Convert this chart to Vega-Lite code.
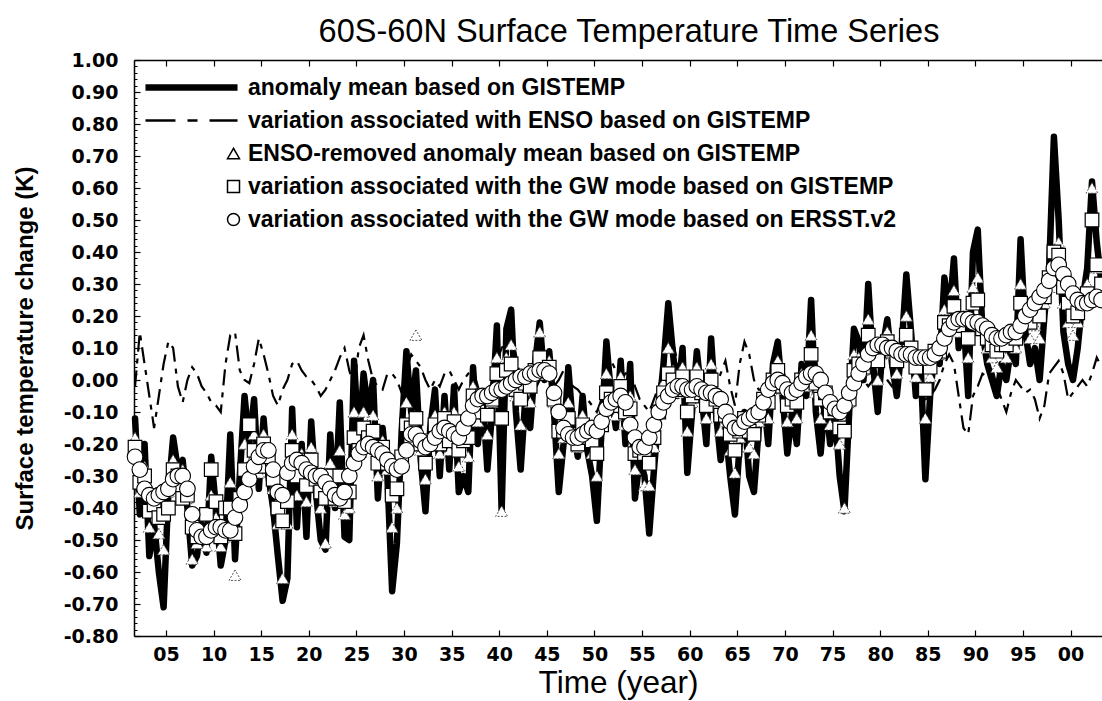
{
  "$schema": "https://vega.github.io/schema/vega-lite/v6.json",
  "width": 968,
  "height": 576,
  "autosize": {"type": "none"},
  "padding": {"left": 134, "top": 60, "right": 0, "bottom": 65},
  "background": "white",
  "config": {"view": {"stroke": null}, "font": "Liberation Sans"},
  "title": {"text": "60S-60N Surface Temperature Time Series", "font": "Liberation Sans", "fontSize": 32.5, "fontWeight": "normal", "color": "black", "anchor": "middle", "frame": "group", "offset": -23, "baseline": "alphabetic", "dx": 11},
  "data": {"values": [
{"t":1901.75,"a":-0.12,"e":-0.02,"r":-0.18,"g":-0.21,"s":-0.24},
{"t":1902.25,"a":-0.42,"e":0.15,"r":-0.35,"g":-0.32,"s":-0.28},
{"t":1902.75,"a":-0.20,"e":0.05,"r":-0.27,"g":-0.30,"s":-0.34},
{"t":1903.25,"a":-0.55,"e":-0.05,"r":-0.46,"g":-0.41,"s":-0.36},
{"t":1903.75,"a":-0.45,"e":-0.15,"r":-0.41,"g":-0.39,"s":-0.37},
{"t":1904.25,"a":-0.60,"e":-0.05,"r":-0.48,"g":-0.43,"s":-0.36},
{"t":1904.75,"a":-0.71,"e":0.05,"r":-0.53,"g":-0.42,"s":-0.35},
{"t":1905.25,"a":-0.35,"e":0.12,"r":-0.35,"g":-0.40,"s":-0.34},
{"t":1905.75,"a":-0.18,"e":0.10,"r":-0.25,"g":-0.28,"s":-0.31},
{"t":1906.25,"a":-0.28,"e":-0.02,"r":-0.29,"g":-0.30,"s":-0.30},
{"t":1906.75,"a":-0.25,"e":-0.07,"r":-0.28,"g":-0.37,"s":-0.30},
{"t":1907.25,"a":-0.40,"e":0.00,"r":-0.37,"g":-0.36,"s":-0.34},
{"t":1907.75,"a":-0.58,"e":0.04,"r":-0.56,"g":-0.46,"s":-0.42},
{"t":1908.25,"a":-0.55,"e":0.02,"r":-0.51,"g":-0.49,"s":-0.47},
{"t":1908.75,"a":-0.45,"e":-0.02,"r":-0.47,"g":-0.48,"s":-0.49},
{"t":1909.25,"a":-0.54,"e":-0.04,"r":-0.52,"g":-0.42,"s":-0.49},
{"t":1909.75,"a":-0.24,"e":-0.07,"r":-0.36,"g":-0.28,"s":-0.47},
{"t":1910.25,"a":-0.40,"e":-0.08,"r":-0.43,"g":-0.38,"s":-0.46},
{"t":1910.75,"a":-0.58,"e":-0.10,"r":-0.52,"g":-0.49,"s":-0.46},
{"t":1911.25,"a":-0.50,"e":0.05,"r":-0.49,"g":-0.40,"s":-0.47},
{"t":1911.75,"a":-0.17,"e":0.14,"r":-0.32,"g":-0.40,"s":-0.47},
{"t":1912.25,"a":-0.56,"e":0.15,"r":-0.61,"g":-0.48,"s":-0.43},
{"t":1912.75,"a":-0.30,"e":0.03,"r":-0.35,"g":-0.37,"s":-0.39},
{"t":1913.25,"a":-0.05,"e":0.00,"r":-0.20,"g":-0.28,"s":-0.35},
{"t":1913.75,"a":-0.20,"e":-0.01,"r":-0.26,"g":-0.14,"s":-0.31},
{"t":1914.25,"a":-0.06,"e":0.05,"r":-0.17,"g":-0.22,"s":-0.27},
{"t":1914.75,"a":-0.34,"e":0.13,"r":-0.29,"g":-0.27,"s":-0.24},
{"t":1915.25,"a":-0.12,"e":0.08,"r":-0.17,"g":-0.20,"s":-0.22},
{"t":1915.75,"a":-0.30,"e":0.02,"r":-0.26,"g":-0.24,"s":-0.22},
{"t":1916.25,"a":-0.40,"e":-0.05,"r":-0.34,"g":-0.31,"s":-0.28},
{"t":1916.75,"a":-0.55,"e":-0.08,"r":-0.45,"g":-0.40,"s":-0.35},
{"t":1917.25,"a":-0.69,"e":-0.03,"r":-0.62,"g":-0.44,"s":-0.36},
{"t":1917.75,"a":-0.62,"e":0.00,"r":-0.45,"g":-0.38,"s":-0.29},
{"t":1918.25,"a":-0.09,"e":0.05,"r":-0.17,"g":-0.22,"s":-0.26},
{"t":1918.75,"a":-0.46,"e":0.06,"r":-0.36,"g":-0.30,"s":-0.25},
{"t":1919.25,"a":-0.20,"e":0.03,"r":-0.23,"g":-0.25,"s":-0.26},
{"t":1919.75,"a":-0.49,"e":0.01,"r":-0.38,"g":-0.33,"s":-0.28},
{"t":1920.25,"a":-0.13,"e":0.00,"r":-0.21,"g":-0.25,"s":-0.29},
{"t":1920.75,"a":-0.35,"e":-0.02,"r":-0.33,"g":-0.31,"s":-0.30},
{"t":1921.25,"a":-0.50,"e":-0.05,"r":-0.40,"g":-0.35,"s":-0.30},
{"t":1921.75,"a":-0.53,"e":-0.03,"r":-0.51,"g":-0.37,"s":-0.32},
{"t":1922.25,"a":-0.17,"e":0.00,"r":-0.26,"g":-0.30,"s":-0.34},
{"t":1922.75,"a":-0.40,"e":0.03,"r":-0.38,"g":-0.37,"s":-0.36},
{"t":1923.25,"a":-0.07,"e":0.07,"r":-0.22,"g":-0.30,"s":-0.37},
{"t":1923.75,"a":-0.49,"e":0.10,"r":-0.42,"g":-0.38,"s":-0.35},
{"t":1924.25,"a":-0.50,"e":0.03,"r":-0.40,"g":-0.35,"s":-0.30},
{"t":1924.75,"a":0.06,"e":-0.02,"r":-0.10,"g":-0.18,"s":-0.26},
{"t":1925.25,"a":-0.20,"e":0.10,"r":-0.22,"g":-0.22,"s":-0.23},
{"t":1925.75,"a":0.02,"e":0.14,"r":-0.10,"g":-0.15,"s":-0.21},
{"t":1926.25,"a":-0.10,"e":0.06,"r":-0.15,"g":-0.18,"s":-0.20},
{"t":1926.75,"a":0.00,"e":0.00,"r":-0.11,"g":-0.16,"s":-0.21},
{"t":1927.25,"a":-0.37,"e":-0.02,"r":-0.30,"g":-0.26,"s":-0.22},
{"t":1927.75,"a":-0.15,"e":-0.03,"r":-0.19,"g":-0.21,"s":-0.23},
{"t":1928.25,"a":-0.30,"e":0.02,"r":-0.28,"g":-0.26,"s":-0.25},
{"t":1928.75,"a":-0.66,"e":0.02,"r":-0.46,"g":-0.36,"s":-0.27},
{"t":1929.25,"a":-0.51,"e":0.00,"r":-0.40,"g":-0.34,"s":-0.28},
{"t":1929.75,"a":-0.16,"e":-0.04,"r":-0.22,"g":-0.24,"s":-0.27},
{"t":1930.25,"a":0.09,"e":0.03,"r":-0.07,"g":-0.14,"s":-0.22},
{"t":1930.75,"a":-0.10,"e":0.08,"r":-0.14,"g":-0.15,"s":-0.17},
{"t":1931.25,"a":0.03,"e":0.06,"r":0.14,"g":-0.12,"s":-0.17},
{"t":1931.75,"a":-0.25,"e":0.04,"r":-0.22,"g":-0.20,"s":-0.19},
{"t":1932.25,"a":-0.41,"e":0.00,"r":-0.31,"g":-0.26,"s":-0.21},
{"t":1932.75,"a":-0.15,"e":-0.03,"r":-0.18,"g":-0.19,"s":-0.20},
{"t":1933.25,"a":-0.03,"e":0.00,"r":-0.11,"g":-0.14,"s":-0.18},
{"t":1933.75,"a":-0.30,"e":-0.02,"r":-0.23,"g":-0.20,"s":-0.16},
{"t":1934.25,"a":-0.05,"e":0.02,"r":-0.10,"g":-0.12,"s":-0.15},
{"t":1934.75,"a":-0.28,"e":0.03,"r":-0.22,"g":-0.19,"s":-0.16},
{"t":1935.25,"a":-0.02,"e":0.00,"r":-0.10,"g":-0.13,"s":-0.17},
{"t":1935.75,"a":-0.35,"e":-0.03,"r":-0.27,"g":-0.22,"s":-0.18},
{"t":1936.25,"a":-0.30,"e":0.00,"r":-0.22,"g":-0.19,"s":-0.15},
{"t":1936.75,"a":-0.35,"e":0.02,"r":-0.24,"g":-0.18,"s":-0.12},
{"t":1937.25,"a":0.04,"e":0.03,"r":-0.02,"g":-0.05,"s":-0.08},
{"t":1937.75,"a":-0.20,"e":-0.02,"r":-0.13,"g":-0.10,"s":-0.06},
{"t":1938.25,"a":-0.05,"e":-0.05,"r":-0.05,"g":-0.05,"s":-0.05},
{"t":1938.75,"a":-0.28,"e":-0.06,"r":-0.17,"g":-0.11,"s":-0.05},
{"t":1939.25,"a":-0.10,"e":0.00,"r":-0.07,"g":-0.06,"s":-0.04},
{"t":1939.75,"a":0.17,"e":0.06,"r":0.07,"g":0.02,"s":-0.03},
{"t":1940.25,"a":-0.41,"e":0.10,"r":-0.41,"g":-0.12,"s":-0.03},
{"t":1940.75,"a":0.16,"e":0.12,"r":0.07,"g":0.03,"s":-0.02},
{"t":1941.25,"a":0.22,"e":0.13,"r":0.11,"g":0.05,"s":-0.01},
{"t":1941.75,"a":-0.10,"e":0.08,"r":-0.05,"g":-0.03,"s":0.00},
{"t":1942.25,"a":-0.28,"e":0.00,"r":-0.14,"g":-0.06,"s":0.01},
{"t":1942.75,"a":-0.05,"e":-0.05,"r":-0.02,"g":-0.01,"s":0.01},
{"t":1943.25,"a":-0.15,"e":-0.06,"r":-0.07,"g":-0.02,"s":0.02},
{"t":1943.75,"a":0.05,"e":-0.03,"r":0.04,"g":0.03,"s":0.02},
{"t":1944.25,"a":0.18,"e":0.00,"r":0.15,"g":0.07,"s":0.03},
{"t":1944.75,"a":0.00,"e":0.02,"r":0.02,"g":0.02,"s":0.03},
{"t":1945.25,"a":0.09,"e":0.00,"r":0.06,"g":0.04,"s":0.02},
{"t":1945.75,"a":-0.10,"e":-0.02,"r":-0.07,"g":-0.06,"s":-0.04},
{"t":1946.25,"a":-0.35,"e":0.00,"r":-0.23,"g":-0.16,"s":-0.10},
{"t":1946.75,"a":-0.20,"e":0.03,"r":-0.18,"g":-0.16,"s":-0.15},
{"t":1947.25,"a":0.04,"e":0.02,"r":-0.07,"g":-0.12,"s":-0.17},
{"t":1947.75,"a":-0.15,"e":-0.02,"r":-0.17,"g":-0.17,"s":-0.18},
{"t":1948.25,"a":-0.24,"e":-0.03,"r":-0.21,"g":-0.20,"s":-0.18},
{"t":1948.75,"a":-0.05,"e":-0.05,"r":-0.11,"g":-0.14,"s":-0.17},
{"t":1949.25,"a":-0.22,"e":-0.06,"r":-0.19,"g":-0.18,"s":-0.16},
{"t":1949.75,"a":-0.30,"e":-0.08,"r":-0.23,"g":-0.19,"s":-0.15},
{"t":1950.25,"a":-0.44,"e":-0.10,"r":-0.30,"g":-0.23,"s":-0.16},
{"t":1950.75,"a":-0.15,"e":-0.06,"r":-0.14,"g":-0.14,"s":-0.13},
{"t":1951.25,"a":0.12,"e":0.02,"r":0.02,"g":-0.04,"s":-0.09},
{"t":1951.75,"a":-0.05,"e":0.06,"r":-0.06,"g":-0.06,"s":-0.07},
{"t":1952.25,"a":-0.15,"e":0.03,"r":-0.11,"g":-0.08,"s":-0.06},
{"t":1952.75,"a":0.06,"e":0.00,"r":0.01,"g":-0.02,"s":-0.05},
{"t":1953.25,"a":-0.20,"e":0.02,"r":-0.14,"g":-0.10,"s":-0.07},
{"t":1953.75,"a":0.05,"e":0.03,"r":-0.05,"g":-0.09,"s":-0.14},
{"t":1954.25,"a":-0.37,"e":-0.02,"r":-0.28,"g":-0.23,"s":-0.18},
{"t":1954.75,"a":-0.25,"e":-0.06,"r":-0.23,"g":-0.22,"s":-0.21},
{"t":1955.25,"a":-0.30,"e":-0.08,"r":-0.33,"g":-0.23,"s":-0.21},
{"t":1955.75,"a":-0.48,"e":-0.10,"r":-0.33,"g":-0.26,"s":-0.18},
{"t":1956.25,"a":-0.28,"e":-0.06,"r":-0.21,"g":-0.18,"s":-0.14},
{"t":1956.75,"a":-0.10,"e":-0.02,"r":-0.10,"g":-0.10,"s":-0.10},
{"t":1957.25,"a":0.05,"e":0.04,"r":-0.01,"g":-0.04,"s":-0.07},
{"t":1957.75,"a":0.24,"e":0.10,"r":0.10,"g":0.02,"s":-0.05},
{"t":1958.25,"a":0.08,"e":0.12,"r":0.03,"g":0.00,"s":-0.03},
{"t":1958.75,"a":-0.05,"e":0.05,"r":-0.04,"g":-0.03,"s":-0.02},
{"t":1959.25,"a":0.10,"e":0.02,"r":0.04,"g":0.01,"s":-0.02},
{"t":1959.75,"a":-0.29,"e":0.00,"r":-0.16,"g":-0.10,"s":-0.03},
{"t":1960.25,"a":-0.10,"e":-0.01,"r":-0.07,"g":-0.05,"s":-0.03},
{"t":1960.75,"a":0.09,"e":0.00,"r":0.04,"g":0.01,"s":-0.02},
{"t":1961.25,"a":-0.05,"e":-0.02,"r":-0.04,"g":-0.04,"s":-0.03},
{"t":1961.75,"a":-0.20,"e":-0.01,"r":-0.12,"g":-0.08,"s":-0.04},
{"t":1962.25,"a":0.13,"e":-0.03,"r":0.05,"g":0.00,"s":-0.04},
{"t":1962.75,"a":-0.10,"e":-0.02,"r":-0.08,"g":-0.06,"s":-0.05},
{"t":1963.25,"a":-0.25,"e":0.02,"r":-0.16,"g":-0.11,"s":-0.06},
{"t":1963.75,"a":-0.15,"e":0.06,"r":-0.13,"g":-0.11,"s":-0.10},
{"t":1964.25,"a":-0.30,"e":-0.02,"r":-0.22,"g":-0.17,"s":-0.13},
{"t":1964.75,"a":-0.42,"e":-0.08,"r":-0.29,"g":-0.22,"s":-0.15},
{"t":1965.25,"a":-0.20,"e":0.05,"r":-0.18,"g":-0.16,"s":-0.15},
{"t":1965.75,"a":-0.10,"e":0.12,"r":-0.12,"g":-0.12,"s":-0.13},
{"t":1966.25,"a":-0.30,"e":0.08,"r":-0.21,"g":-0.16,"s":-0.12},
{"t":1966.75,"a":-0.35,"e":0.00,"r":-0.23,"g":-0.17,"s":-0.11},
{"t":1967.25,"a":-0.15,"e":-0.03,"r":-0.13,"g":-0.11,"s":-0.10},
{"t":1967.75,"a":-0.05,"e":-0.03,"r":-0.06,"g":-0.06,"s":-0.07},
{"t":1968.25,"a":-0.20,"e":-0.01,"r":-0.12,"g":-0.07,"s":-0.03},
{"t":1968.75,"a":0.05,"e":0.03,"r":0.02,"g":0.00,"s":-0.01},
{"t":1969.25,"a":0.12,"e":0.06,"r":0.06,"g":0.03,"s":0.00},
{"t":1969.75,"a":-0.05,"e":0.04,"r":-0.03,"g":-0.02,"s":-0.01},
{"t":1970.25,"a":-0.23,"e":-0.02,"r":-0.13,"g":-0.08,"s":-0.03},
{"t":1970.75,"a":-0.10,"e":-0.08,"r":-0.07,"g":-0.06,"s":-0.04},
{"t":1971.25,"a":-0.20,"e":-0.10,"r":-0.12,"g":-0.07,"s":-0.03},
{"t":1971.75,"a":0.05,"e":-0.06,"r":0.02,"g":0.00,"s":-0.01},
{"t":1972.25,"a":-0.05,"e":0.03,"r":-0.02,"g":0.00,"s":0.01},
{"t":1972.75,"a":0.25,"e":0.12,"r":0.14,"g":0.08,"s":0.02},
{"t":1973.25,"a":-0.10,"e":0.08,"r":-0.04,"g":-0.01,"s":0.02},
{"t":1973.75,"a":-0.23,"e":-0.08,"r":-0.12,"g":-0.06,"s":0.00},
{"t":1974.25,"a":-0.05,"e":-0.12,"r":-0.05,"g":-0.04,"s":-0.04},
{"t":1974.75,"a":-0.20,"e":-0.08,"r":-0.14,"g":-0.10,"s":-0.07},
{"t":1975.25,"a":-0.10,"e":-0.10,"r":-0.10,"g":-0.09,"s":-0.09},
{"t":1975.75,"a":-0.30,"e":-0.13,"r":-0.20,"g":-0.15,"s":-0.10},
{"t":1976.25,"a":-0.41,"e":-0.08,"r":-0.40,"g":-0.16,"s":-0.08},
{"t":1976.75,"a":-0.10,"e":0.02,"r":-0.07,"g":-0.06,"s":-0.04},
{"t":1977.25,"a":0.16,"e":0.05,"r":0.08,"g":0.03,"s":-0.01},
{"t":1977.75,"a":0.12,"e":0.04,"r":0.07,"g":0.05,"s":0.02},
{"t":1978.25,"a":0.00,"e":0.00,"r":0.03,"g":0.04,"s":0.05},
{"t":1978.75,"a":0.30,"e":-0.02,"r":0.19,"g":0.14,"s":0.08},
{"t":1979.25,"a":0.05,"e":0.00,"r":0.08,"g":0.09,"s":0.10},
{"t":1979.75,"a":-0.10,"e":0.03,"r":0.00,"g":0.06,"s":0.11},
{"t":1980.25,"a":0.10,"e":0.02,"r":0.11,"g":0.11,"s":0.11},
{"t":1980.75,"a":0.19,"e":0.00,"r":0.15,"g":0.12,"s":0.10},
{"t":1981.25,"a":0.05,"e":-0.02,"r":0.08,"g":0.09,"s":0.10},
{"t":1981.75,"a":-0.05,"e":0.00,"r":0.02,"g":0.06,"s":0.09},
{"t":1982.25,"a":0.10,"e":0.04,"r":0.09,"g":0.09,"s":0.08},
{"t":1982.75,"a":0.33,"e":0.12,"r":0.20,"g":0.14,"s":0.08},
{"t":1983.25,"a":0.15,"e":0.14,"r":0.12,"g":0.10,"s":0.08},
{"t":1983.75,"a":-0.05,"e":0.02,"r":0.01,"g":0.04,"s":0.07},
{"t":1984.25,"a":0.05,"e":-0.04,"r":0.06,"g":0.07,"s":0.07},
{"t":1984.75,"a":-0.31,"e":-0.06,"r":-0.12,"g":-0.03,"s":0.07},
{"t":1985.25,"a":-0.05,"e":-0.05,"r":0.01,"g":0.04,"s":0.07},
{"t":1985.75,"a":0.10,"e":-0.03,"r":0.09,"g":0.09,"s":0.08},
{"t":1986.25,"a":0.05,"e":0.00,"r":0.08,"g":0.09,"s":0.10},
{"t":1986.75,"a":0.32,"e":0.05,"r":0.22,"g":0.18,"s":0.13},
{"t":1987.25,"a":0.20,"e":0.08,"r":0.18,"g":0.17,"s":0.16},
{"t":1987.75,"a":0.38,"e":0.05,"r":0.28,"g":0.23,"s":0.18},
{"t":1988.25,"a":0.10,"e":-0.05,"r":0.15,"g":0.17,"s":0.19},
{"t":1988.75,"a":0.20,"e":-0.15,"r":0.20,"g":0.19,"s":0.19},
{"t":1989.25,"a":-0.05,"e":-0.17,"r":0.07,"g":0.13,"s":0.19},
{"t":1989.75,"a":0.40,"e":-0.05,"r":0.29,"g":0.24,"s":0.18},
{"t":1990.25,"a":0.47,"e":-0.02,"r":0.32,"g":0.25,"s":0.18},
{"t":1990.75,"a":0.15,"e":0.02,"r":0.16,"g":0.16,"s":0.17},
{"t":1991.25,"a":0.05,"e":0.01,"r":0.10,"g":0.13,"s":0.16},
{"t":1991.75,"a":0.00,"e":0.04,"r":0.07,"g":0.11,"s":0.14},
{"t":1992.25,"a":-0.05,"e":-0.02,"r":0.04,"g":0.09,"s":0.13},
{"t":1992.75,"a":0.05,"e":-0.06,"r":0.09,"g":0.11,"s":0.13},
{"t":1993.25,"a":0.00,"e":-0.10,"r":0.07,"g":0.11,"s":0.14},
{"t":1993.75,"a":0.10,"e":-0.04,"r":0.12,"g":0.14,"s":0.15},
{"t":1994.25,"a":0.05,"e":0.00,"r":0.10,"g":0.13,"s":0.15},
{"t":1994.75,"a":0.44,"e":-0.02,"r":0.30,"g":0.24,"s":0.17},
{"t":1995.25,"a":0.15,"e":-0.04,"r":0.18,"g":0.19,"s":0.20},
{"t":1995.75,"a":0.05,"e":-0.03,"r":0.13,"g":0.18,"s":0.22},
{"t":1996.25,"a":0.10,"e":-0.06,"r":0.17,"g":0.21,"s":0.24},
{"t":1996.75,"a":0.00,"e":-0.12,"r":0.13,"g":0.20,"s":0.26},
{"t":1997.25,"a":0.20,"e":-0.08,"r":0.24,"g":0.26,"s":0.28},
{"t":1997.75,"a":0.35,"e":0.02,"r":0.33,"g":0.32,"s":0.31},
{"t":1998.25,"a":0.76,"e":0.04,"r":0.29,"g":0.40,"s":0.35},
{"t":1998.75,"a":0.50,"e":0.06,"r":0.43,"g":0.39,"s":0.36},
{"t":1999.25,"a":0.15,"e":0.02,"r":0.24,"g":0.29,"s":0.33},
{"t":1999.75,"a":0.05,"e":-0.06,"r":0.18,"g":0.24,"s":0.30},
{"t":2000.25,"a":0.00,"e":-0.04,"r":0.14,"g":0.20,"s":0.27},
{"t":2000.75,"a":0.10,"e":-0.02,"r":0.18,"g":0.21,"s":0.25},
{"t":2001.25,"a":0.25,"e":0.00,"r":0.25,"g":0.24,"s":0.24},
{"t":2001.75,"a":0.35,"e":-0.02,"r":0.30,"g":0.27,"s":0.24},
{"t":2002.25,"a":0.62,"e":0.02,"r":0.60,"g":0.50,"s":0.25},
{"t":2002.75,"a":0.43,"e":0.07,"r":0.35,"g":0.36,"s":0.26},
{"t":2003.25,"a":0.30,"e":0.04,"r":0.28,"g":0.30,"s":0.25}
  ]},
  "resolve": {"axis": {"x": "independent", "y": "independent"}},
  "layer": [
    {
      "mark": {"type": "line", "color": "black", "strokeWidth": 6.5, "strokeJoin": "round", "strokeCap": "round"},
      "encoding": {
        "x": {"field": "t", "type": "quantitative",
          "scale": {"domain": [1901.64, 2003.3], "nice": false, "zero": false},
          "axis": {"orient": "bottom", "values": [1905,1910,1915,1920,1925,1930,1935,1940,1945,1950,1955,1960,1965,1970,1975,1980,1985,1990,1995,2000],
            "labelExpr": "format(datum.value % 100, '02d')",
            "labelFont": "DejaVu Sans", "labelFontSize": 19, "labelFontWeight": "bold", "labelColor": "black",
            "labelPadding": 15, "labelOverlap": false, "labelFlush": false,
            "tickSize": -6, "tickColor": "black", "tickWidth": 1.2,
            "domainColor": "black", "domainWidth": 1.5, "grid": false,
            "title": "Time (year)", "titleFont": "Liberation Sans", "titleFontSize": 31.5, "titleFontWeight": "normal", "titleColor": "black", "titlePadding": 3}},
        "y": {"field": "a", "type": "quantitative",
          "scale": {"domain": [-0.8, 1.0], "nice": false, "zero": false},
          "axis": {"orient": "left", "values": [-0.8,-0.7,-0.6,-0.5,-0.4,-0.3,-0.2,-0.1,0,0.1,0.2,0.3,0.4,0.5,0.6,0.7,0.8,0.9,1.0],
            "labelExpr": "(datum.value < -0.0001 ? '-' : '') + format(abs(datum.value), '.2f')",
            "labelFont": "DejaVu Sans", "labelFontSize": 19, "labelFontWeight": "bold", "labelColor": "black",
            "labelPadding": 22, "labelOverlap": false, "labelFlush": false,
            "tickSize": -6, "tickColor": "black", "tickWidth": 1.2,
            "domainColor": "black", "domainWidth": 1.5, "grid": false,
            "title": "Surface temperature change (K)", "titleFont": "Liberation Sans", "titleFontSize": 24, "titleFontWeight": "bold", "titleColor": "black", "titlePadding": 26}}
      }
    },
    {
      "mark": {"type": "line", "color": "black", "strokeWidth": 2.2, "strokeDash": [16, 7, 5, 7]},
      "encoding": {
        "x": {"field": "t", "type": "quantitative",
          "scale": {"domain": [1901.64, 2003.3], "nice": false, "zero": false},
          "axis": {"orient": "top", "values": [1905,1910,1915,1920,1925,1930,1935,1940,1945,1950,1955,1960,1965,1970,1975,1980,1985,1990,1995,2000],
            "labels": false, "tickSize": -6, "tickColor": "black", "tickWidth": 1.2,
            "domainColor": "black", "domainWidth": 1.5, "grid": false, "title": null}},
        "y": {"field": "e", "type": "quantitative",
          "axis": {"orient": "left", "values": [-0.78,-0.76,-0.74,-0.72,-0.68,-0.66,-0.64,-0.62,-0.58,-0.56,-0.54,-0.52,-0.48,-0.46,-0.44,-0.42,-0.38,-0.36,-0.34,-0.32,-0.28,-0.26,-0.24,-0.22,-0.18,-0.16,-0.14,-0.12,-0.08,-0.06,-0.04,-0.02,0.02,0.04,0.06,0.08,0.12,0.14,0.16,0.18,0.22,0.24,0.26,0.28,0.32,0.34,0.36,0.38,0.42,0.44,0.46,0.48,0.52,0.54,0.56,0.58,0.62,0.64,0.66,0.68,0.72,0.74,0.76,0.78,0.82,0.84,0.86,0.88,0.92,0.94,0.96,0.98],
            "labels": false, "domain": false, "tickSize": -3, "tickColor": "black", "tickWidth": 1, "grid": false, "title": null}}
      }
    },
    {
      "mark": {"type": "point", "shape": "triangle-up", "filled": true, "fill": "white", "stroke": "#555555", "strokeWidth": 1, "strokeDash": [2, 1.5], "size": 145, "opacity": 1},
      "encoding": {
        "x": {"field": "t", "type": "quantitative", "axis": null},
        "y": {"field": "r", "type": "quantitative", "axis": null}
      }
    },
    {
      "mark": {"type": "point", "shape": "square", "filled": true, "fill": "white", "stroke": "black", "strokeWidth": 1.2, "size": 185, "opacity": 1},
      "encoding": {
        "x": {"field": "t", "type": "quantitative", "axis": null},
        "y": {"field": "g", "type": "quantitative", "axis": null}
      }
    },
    {
      "mark": {"type": "point", "shape": "circle", "filled": true, "fill": "white", "stroke": "black", "strokeWidth": 1.1, "size": 245, "opacity": 1},
      "encoding": {
        "x": {"field": "t", "type": "quantitative", "axis": null},
        "y": {"field": "s", "type": "quantitative", "axis": null}
      }
    },
    {
      "transform": [{"filter": "false"}],
      "mark": {"type": "point", "filled": false, "color": "black", "opacity": 1},
      "encoding": {
        "shape": {"field": "series", "type": "nominal",
          "scale": {"domain": ["anomaly mean based on GISTEMP", "variation associated with ENSO based on GISTEMP", "ENSO-removed anomaly mean based on GISTEMP", "variation associated with the GW mode based on GISTEMP", "variation associated with the GW mode based on ERSST.v2"],
            "range": ["M-14.67,-0.4H0.67M-14.67,-0.2H0.67M-14.67,0H0.67M-14.67,0.2H0.67M-14.67,0.4H0.67", "M-14.67,-0.1H-9.67M-7.67,-0.1H-6M-4,-0.1H0.67M-14.67,0.1H-9.67M-7.67,0.1H-6M-4,0.1H0.67", "triangle-up", "square", "circle"]},
          "legend": {"title": null, "orient": "none", "legendX": 88, "legendY": 16, "padding": 0,
            "symbolSize": 144, "symbolStrokeWidth": 1.5, "symbolStrokeColor": "black", "symbolFillColor": "white", "symbolOpacity": 1,
            "labelFont": "Liberation Sans", "labelFontSize": 23, "labelFontWeight": "bold", "labelColor": "black",
            "labelLimit": 0, "labelOffset": 3, "rowPadding": 9}
        }
      }
    }
  ]
}
